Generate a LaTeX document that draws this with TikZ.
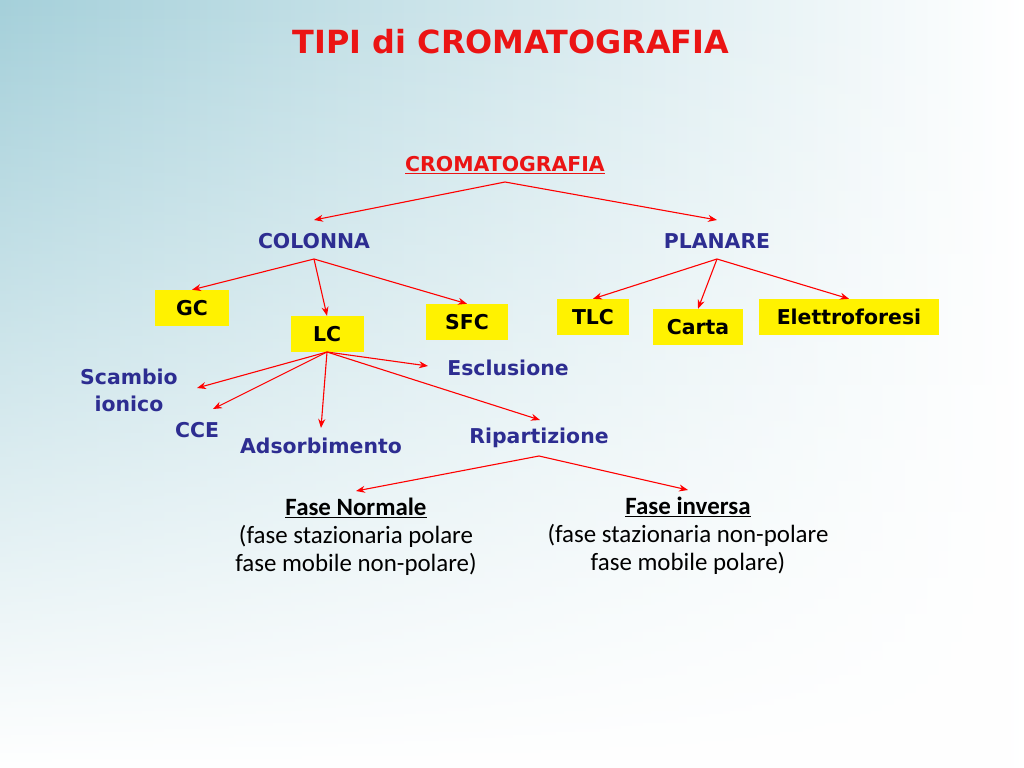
\documentclass[tikz,border=0pt]{standalone}
\usepackage{fontspec}
\setmainfont{DejaVu Sans}
\newfontfamily\calib{Carlito}
\usetikzlibrary{fadings,arrows.meta}
\definecolor{navy}{RGB}{45,45,145}
\definecolor{tred}{RGB}{235,20,20}
\definecolor{teal0}{RGB}{165,208,218}
\begin{document}
\begin{tikzpicture}[x=1bp,y=-1bp,
  lab/.style={font=\bfseries\fontsize{20.5}{24}\selectfont, text=navy, align=center, inner sep=1pt},
  ybox/.style={fill=yellow, font=\bfseries\fontsize{20.5}{24}\selectfont, text=black, inner sep=0pt},
  arr/.style={draw=red, -{Stealth[length=9bp,width=7bp]}, line width=1.1bp},
  bt/.style={font=\calib\fontsize{25}{28}\selectfont, align=center}]
\useasboundingbox (0,0) rectangle (1024,768);
\shade[left color=teal0, right color=white] (0,0) rectangle (1024,768);
\fill[white, path fading=north] (0,0) rectangle (1024,768);
\node[font=\bfseries\fontsize{32}{36}\selectfont, text=tred] (title) at (511,42) {TIPI di CROMATOGRAFIA};
\node[font=\bfseries\fontsize{20.5}{24}\selectfont, text=tred] (crom) at (505,165) {\underline{CROMATOGRAFIA}};
\node[lab] (col) at (314,241) {COLONNA};
\node[lab] (pla) at (717,241) {PLANARE};
\node[ybox, minimum width=74bp, minimum height=36bp] (gc) at (192,308) {GC};
\node[ybox, minimum width=73bp, minimum height=36bp] (lc) at (327,334) {LC};
\node[ybox, minimum width=82bp, minimum height=36bp] (sfc) at (467,322) {SFC};
\node[ybox, minimum width=72bp, minimum height=36bp] (tlc) at (593,317) {TLC};
\node[ybox, minimum width=90bp, minimum height=36bp] (car) at (698,327) {Carta};
\node[ybox, minimum width=180bp, minimum height=36bp] (ele) at (849,317) {Elettroforesi};
\node[lab, font=\bfseries\fontsize{20.5}{27}\selectfont] (sca) at (129,390) {Scambio\\ionico};
\node[lab] (cce) at (197,430) {CCE};
\node[lab] (ads) at (321,446) {Adsorbimento};
\node[lab] (esc) at (508,368) {Esclusione};
\node[lab] (rip) at (539,438) {Ripartizione};
\node[bt] (fn) at (356,537) {\textbf{\underline{Fase Normale}}\\(fase stazionaria polare\\fase mobile non-polare)};
\node[bt] (fi) at (688,536) {\textbf{\underline{Fase inversa}}\\(fase stazionaria non-polare\\fase mobile polare)};
\coordinate (c0) at (505,182);
\coordinate (c1) at (314,259);
\coordinate (c2) at (717,259);
\coordinate (c3) at (327,352);
\coordinate (c4) at (539,456);
\draw[arr] (c0) -- (314,220);
\draw[arr] (c0) -- (717,220);
\draw[arr] (c1) -- (gc.north);
\draw[arr] (c1) -- (lc.north);
\draw[arr] (c1) -- (sfc.north);
\draw[arr] (c2) -- (tlc.north);
\draw[arr] (c2) -- (car.north);
\draw[arr] (c2) -- (ele.north);
\draw[arr] (c3) -- (197,388);
\draw[arr] (c3) -- (213,409);
\draw[arr] (c3) -- (321,428);
\draw[arr] (c3) -- (428,366);
\draw[arr] (c3) -- (540,420);
\draw[arr] (c4) -- (356,491);
\draw[arr] (c4) -- (688,490);
\end{tikzpicture}
\end{document}
